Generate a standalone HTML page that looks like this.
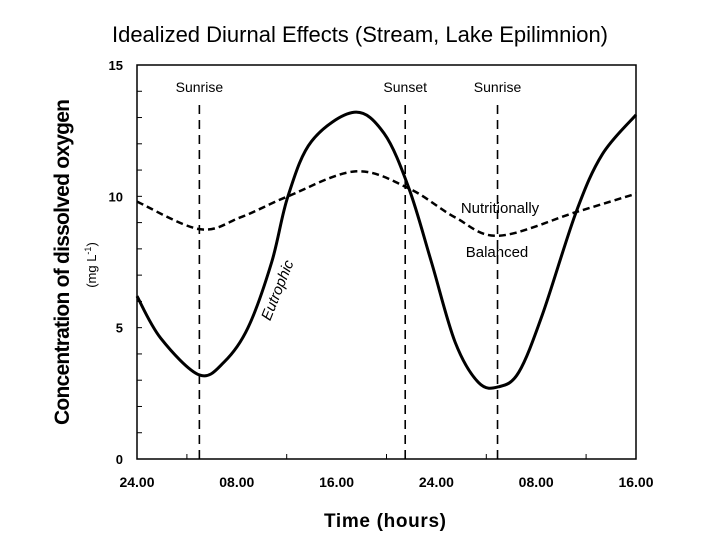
<!DOCTYPE html>
<html><head><meta charset="utf-8">
<style>
html,body{margin:0;padding:0;background:#fff;}
svg{display:block;font-family:"Liberation Sans",Arial,sans-serif;}
</style></head>
<body>
<svg id="chart" width="720" height="540" viewBox="0 0 720 540">
<text x="360" y="42" font-size="22" text-anchor="middle">Idealized Diurnal Effects (Stream, Lake Epilimnion)</text>
<g id="axes"></g>
<g id="marks"></g>
<text x="385" y="527" font-size="19" font-weight="bold" text-anchor="middle" textLength="122">Time (hours)</text>
<text transform="translate(69,262) rotate(-90)" font-size="21" font-weight="bold" text-anchor="middle" textLength="326">Concentration of dissolved oxygen</text>
<text transform="translate(96,265) rotate(-90)" font-size="13" text-anchor="middle">(mg L<tspan dy="-5" font-size="9">-1</tspan><tspan dy="5">)</tspan></text>
</svg>
<script>
const xTickLabels = ["24.00","08.00","16.00","24.00","08.00","16.00"];
const xTickHours = [0,8,16,24,32,40];
const yTickValues = [0,5,10,15];
const eutHours = [0,1.9,5.0,7.0,8.9,10.8,12.1,14.0,17.4,19.8,21.8,23.6,25.5,27.4,29.0,30.6,32.5,35.2,37.3,40];
const eutValues = [6.2,4.6,3.2,3.7,5.0,7.5,10.0,12.1,13.2,12.4,10.3,7.5,4.45,2.9,2.75,3.3,5.5,9.4,11.6,13.1];
const balHours = [0,5.0,8.3,12.1,17.5,21.8,25.5,29.0,35.2,40];
const balValues = [9.8,8.75,9.2,10.0,10.95,10.3,9.2,8.5,9.4,10.1];
const eventNames = ["Sunrise","Sunset","Sunrise"];
const eventHours = [5.0,21.5,28.9];

const X0=137, X1=636, Y0=459, Y1=65;
const xs = h => X0 + (h/40)*(X1-X0);
const ys = v => Y0 - (v/15)*(Y0-Y1);
const NS="http://www.w3.org/2000/svg";
const axes=document.getElementById('axes'), marks=document.getElementById('marks');
function mk(tag, attrs, parent){const e=document.createElementNS(NS,tag);for(const k in attrs)e.setAttribute(k,attrs[k]);parent.appendChild(e);return e;}

const frame=mk('rect',{x:X0,y:Y1,width:X1-X0,height:Y0-Y1,fill:'none',stroke:'#000','stroke-width':1.5},axes);


for(let h=0;h<=40;h+=4){
  const t=mk('line',{x1:xs(h),x2:xs(h),y1:Y0,y2:Y0-(h%8===0?0:5),stroke:'#000','stroke-width':1},axes);
  
  
}
for(let v=0;v<=15;v++){
  const t=mk('line',{x1:X0,x2:X0+5,y1:ys(v),y2:ys(v),stroke:'#000','stroke-width':1},axes);
  
  
}
xTickHours.forEach((h,i)=>{
  const t=mk('text',{x:xs(h),y:487,'font-size':14,'font-weight':'bold','text-anchor':'middle'},axes);
  t.textContent=xTickLabels[i];
  
  
});
yTickValues.forEach(v=>{
  const t=mk('text',{x:123,y:ys(v)+5,'font-size':13,'font-weight':'bold','text-anchor':'end'},axes);
  t.textContent=String(v);
  
  
});
eventHours.forEach((h,i)=>{
  const l=mk('line',{x1:xs(h),x2:xs(h),y1:105,y2:Y0,stroke:'#000','stroke-width':1.6,'stroke-dasharray':'9,6'},marks);
  
  
  const t=mk('text',{x:xs(h),y:92,'font-size':14,'text-anchor':'middle'},marks);
  t.textContent=eventNames[i];
  
  
});
function spline(hs,vs){
  const p=hs.map((h,i)=>[xs(h),ys(vs[i])]);
  let d='M'+p[0][0]+','+p[0][1];
  for(let i=0;i<p.length-1;i++){
    const a=p[Math.max(0,i-1)],b=p[i],c=p[i+1],e=p[Math.min(p.length-1,i+2)];
    const c1=[b[0]+(c[0]-a[0])/6,b[1]+(c[1]-a[1])/6],c2=[c[0]-(e[0]-b[0])/6,c[1]-(e[1]-b[1])/6];
    d+=' C'+c1+' '+c2+' '+c;
  }
  return d;
}
const bal=mk('path',{d:spline(balHours,balValues),fill:'none',stroke:'#000','stroke-width':2.5,'stroke-dasharray':'7,4'},marks);


const eut=mk('path',{d:spline(eutHours,eutValues),fill:'none',stroke:'#000','stroke-width':3},marks);


const labs=[["Nutritionally",500,213,0,"nutritionally-label"],["Balanced",497,257,0,"balanced-label"]];
labs.forEach(l=>{
  const t=mk('text',{x:l[1],y:l[2],'font-size':15,'text-anchor':'middle'},marks);
  t.textContent=l[0];
  
  
});
const eu=mk('text',{transform:'translate(282,292) rotate(-68)','font-size':15,'font-style':'italic','text-anchor':'middle'},marks);
eu.textContent='Eutrophic';


</script>
</body></html>
